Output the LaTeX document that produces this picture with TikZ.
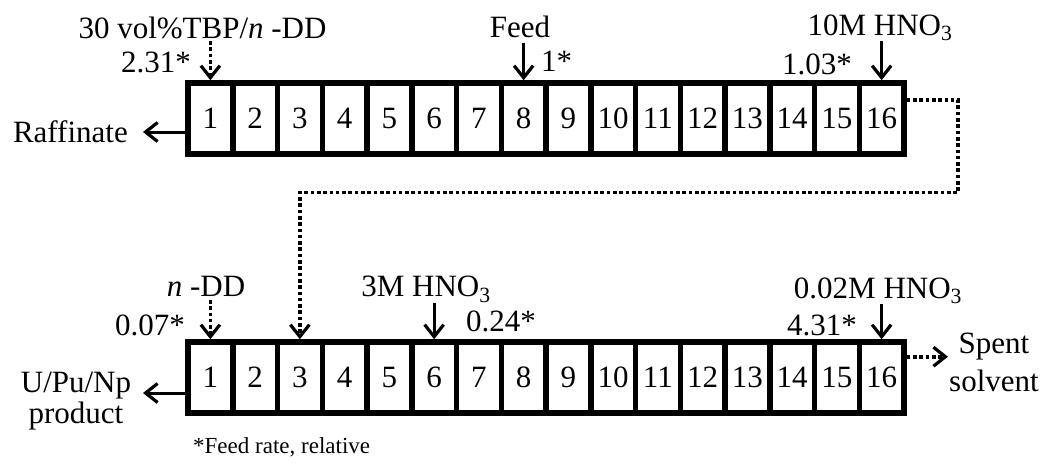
\documentclass[tikz,border=0pt]{standalone}
\usepackage{fontspec}
\setmainfont{Liberation Serif}
\usetikzlibrary{arrows.meta}
\begin{document}
\begin{tikzpicture}[x=1pt,y=-1pt,
  font=\fontsize{31}{37}\selectfont,
  cell/.style={draw,line width=5.5pt,minimum width=44.75pt,minimum height=71pt,inner sep=0pt},
  lab/.style={inner sep=0pt},
  arr/.style={line width=3pt,-{Straight Barb[length=12pt,width=19pt,line width=3.2pt]}},
  darr/.style={line width=3.6pt,dash pattern=on 3.6pt off 2.7pt,-{Straight Barb[length=12pt,width=19pt,line width=3.2pt]}},
]
\useasboundingbox (0,0) rectangle (1048,464);
\foreach \i in {1,...,16}{
  \node[cell] (a\i) at ({188+(\i-0.5)*44.75},118.5) {\i};
  \node[cell] (b\i) at ({188+(\i-0.5)*44.75},377.5) {\i};
}
% top row labels
\node[lab,anchor=base] (tbp) at (202.5,38) {30 vol\%TBP/\textit{n} -DD};
\node[lab,anchor=base east] (r231) at (191,72.7) {2.31*};
\node[lab,anchor=base] (feed) at (520,37) {Feed};
\node[lab,anchor=base west] (r1) at (541,71) {1*};
\node[lab,anchor=base] (hnoa) at (880,35) {10M HNO\textsubscript{3}};
\node[lab,anchor=base east] (r103) at (852,74) {1.03*};
\node[lab,anchor=base east] (raff) at (128,142.7) {Raffinate};
% bottom row labels
\node[lab,anchor=base] (ndd) at (206,296.7) {\textit{n} -DD};
\node[lab,anchor=base east] (r007) at (185,335) {0.07*};
\node[lab,anchor=base] (hnob) at (426,296.7) {3M HNO\textsubscript{3}};
\node[lab,anchor=base west] (r024) at (466,331.7) {0.24*};
\node[lab,anchor=base] (hnoc) at (878,298) {0.02M HNO\textsubscript{3}};
\node[lab,anchor=base east] (r431) at (857,335) {4.31*};
\node[lab,anchor=base,font=\fontsize{31}{30}\selectfont] (upn) at (76,392.5)
  {\begin{tabular}[t]{@{}c@{}}U/Pu/Np\\product\end{tabular}};
\node[lab,anchor=base,font=\fontsize{31}{38.5}\selectfont] (spent) at (994,353)
  {\begin{tabular}[t]{@{}c@{}}Spent\\solvent\end{tabular}};
\node[lab,anchor=base west,font=\fontsize{23}{27}\selectfont] (note) at (193,453) {*Feed rate, relative};
% free ends
\coordinate (raffend) at (143,132);
\coordinate (upnend) at (143,393);
\coordinate (spentend) at (948,356.7);
\coordinate (turn) at (958,192.5);
% connectors top
\draw[darr,shorten <=2.5pt] (tbp.south -| a1.north) -- (a1.north);
\draw[arr,shorten <=5pt] (feed.south -| a8.north) -- (a8.north);
\draw[arr] (hnoa.south -| a16.north) -- (a16.north);
\draw[arr] (a1.west |- raffend) -- (raffend);
\draw[darr] ([yshift=18.5pt]a16.east) -| (turn) -| (b3.north);
% connectors bottom
\draw[darr,shorten <=3pt] (ndd.south -| b1.north) -- (b1.north);
\draw[arr] (hnob.south -| b6.north) -- (b6.north);
\draw[arr] (hnoc.south -| b16.north) -- (b16.north);
\draw[arr] (b1.west |- upnend) -- (upnend);
\draw[darr] (b16.east |- spentend) -- (spentend);
\end{tikzpicture}
\end{document}
